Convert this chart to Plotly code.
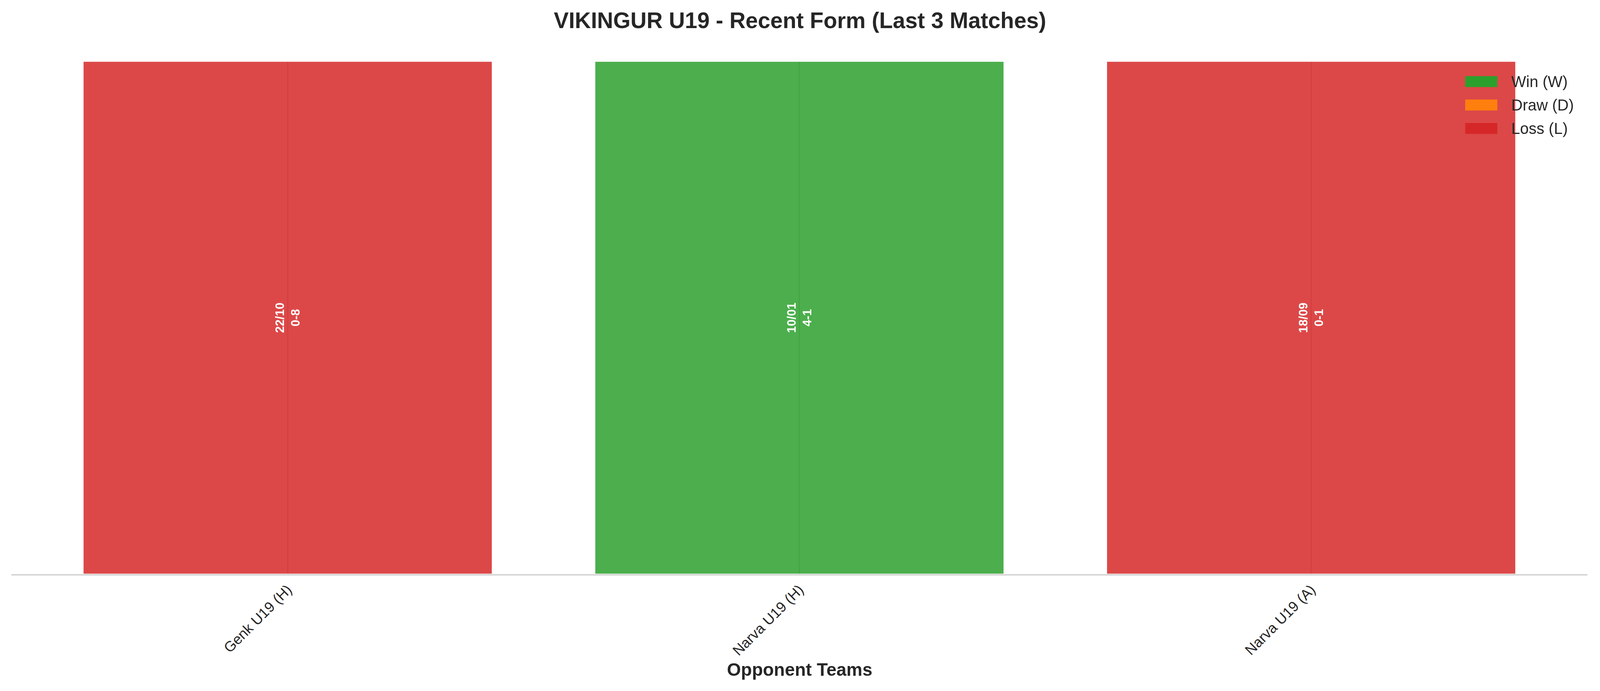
import plotly.graph_objects as go

# Data
opponents = ["Genk U19 (H)", "Narva U19 (H)", "Narva U19 (A)"]
dates = ["22/10", "10/01", "18/09"]
scores = ["0-8", "4-1", "0-1"]
results = ["L", "W", "L"]
bar_values = [1, 1, 1]

legend_labels = ["Win (W)", "Draw (D)", "Loss (L)"]
legend_keys = ["W", "D", "L"]
result_colors = {"W": "#2ca02c", "D": "#ff7f0e", "L": "#d62728"}

font_family = "Liberation Sans, Arial, sans-serif"
text_color = "#262626"

bar_colors = [result_colors[r] for r in results]
bar_text = [f"<b>{d}<br>{s}</b>" for d, s in zip(dates, scores)]

fig = go.Figure()

# grid lines at each category, kept under the (semi transparent) bars
for opp, val in zip(opponents, bar_values):
    fig.add_shape(type="line", xref="x", yref="y", x0=opp, x1=opp, y0=0, y1=val,
                  line=dict(color="#c8c8c8", width=3), layer="below")

fig.add_trace(go.Bar(
    x=opponents,
    y=bar_values,
    marker=dict(color=bar_colors, line=dict(color="white", width=3)),
    opacity=0.85,
    width=0.8,
    text=bar_text,
    textposition="inside",
    insidetextanchor="middle",
    textangle=-90,
    constraintext="none",
    textfont=dict(family=font_family, size=31, color="white"),
    showlegend=False,
    hoverinfo="skip",
))

# legend drawn by hand so the patches match the original size
leg_x0, leg_x1, leg_text_x = 0.9224, 0.9428, 0.9511
leg_y_top, leg_step, leg_half = 0.9145, 0.0435, 0.0101
for i, (lab, key) in enumerate(zip(legend_labels, legend_keys)):
    yc = leg_y_top - i * leg_step
    fig.add_shape(type="rect", xref="paper", yref="paper",
                  x0=leg_x0, x1=leg_x1, y0=yc - leg_half, y1=yc + leg_half,
                  fillcolor=result_colors[key], line=dict(width=0), layer="above")
    fig.add_annotation(text=lab, xref="paper", yref="paper", x=leg_text_x, y=yc,
                       xanchor="left", yanchor="middle", showarrow=False,
                       font=dict(family=font_family, size=40, color=text_color))

fig.add_annotation(text="<b>Opponent Teams</b>", xref="paper", yref="paper",
                   x=0.5, y=-0.1768, xanchor="center", yanchor="middle", showarrow=False,
                   font=dict(family=font_family, size=46, color=text_color))

fig.update_layout(
    autosize=True,
    paper_bgcolor="white",
    plot_bgcolor="white",
    margin=dict(l=29, r=32, t=91, b=299),
    title=dict(text="<b>VIKINGUR U19 - Recent Form (Last 3 Matches)</b>",
               x=0.5, xanchor="center", y=1 - 52 / 1770, yanchor="middle",
               font=dict(family=font_family, size=57, color=text_color)),
    font=dict(family=font_family, color=text_color),
    bargap=0.2,
)

fig.update_xaxes(
    range=[-0.54, 2.54],
    tickangle=-45,
    tickfont=dict(family=font_family, size=37, color=text_color),
    showgrid=False,
    showline=True,
    linecolor="#cccccc",
    linewidth=3,
    ticks="",
    zeroline=False,
)
fig.update_yaxes(
    range=[0, 1.05],
    showticklabels=False,
    showgrid=False,
    zeroline=False,
    showline=False,
    ticks="",
)

# fill the browser viewport
fit_js = (
    "document.documentElement.style.margin='0';"
    "document.body.style.margin='0';"
    "document.body.style.overflow='hidden';"
    "var gd=document.getElementById('{plot_id}');"
    "gd.style.width='100vw';gd.style.height='100vh';"
    "Plotly.Plots.resize(gd);"
)
fig.write_html("out.html", default_width="100vw", default_height="100vh",
               config={"displayModeBar": False, "responsive": True},
               post_script=fit_js)
